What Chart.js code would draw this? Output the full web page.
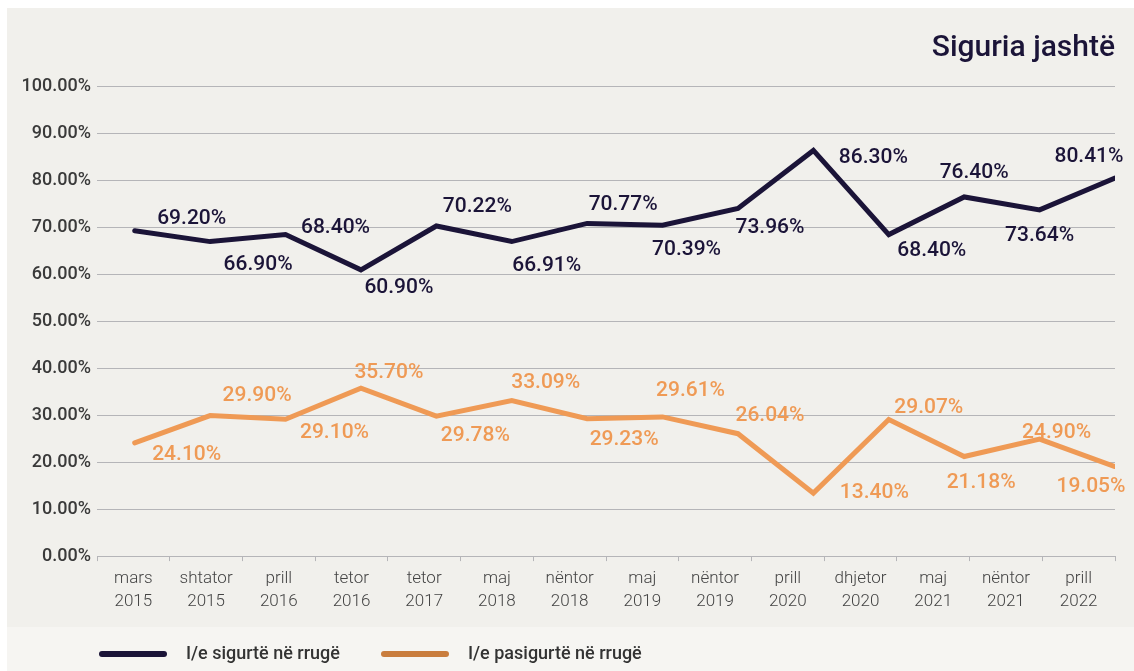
<!DOCTYPE html>
<html>
<head>
<meta charset="utf-8">
<script src="https://cdn.jsdelivr.net/npm/chart.js@4"></script>
<style>
  body { margin: 0; background: #ffffff; }
  #wrap { position: absolute; left: 7px; top: 8px; width: 1127px; height: 663px; background: #f1f0ec; }
</style>
</head>
<body>
<div id="wrap"><canvas id="myChart"></canvas></div>
<script>
// chart data
const categories = [
  ['mars', '2015'], ['shtator', '2015'], ['prill', '2016'], ['tetor', '2016'],
  ['tetor', '2017'], ['maj', '2018'], ['nëntor', '2018'], ['maj', '2019'],
  ['nëntor', '2019'], ['prill', '2020'], ['dhjetor', '2020'], ['maj', '2021'],
  ['nëntor', '2021'], ['prill', '2022']
];
const safeValues = [69.20, 66.90, 68.40, 60.90, 70.22, 66.91, 70.77, 70.39, 73.96, 86.30, 68.40, 76.40, 73.64, 80.41];
const unsafeValues = [24.10, 29.90, 29.10, 35.70, 29.78, 33.09, 29.23, 29.61, 26.04, 13.40, 29.07, 21.18, 24.90, 19.05];
const seriesNames = ['I/e sigurtë në rrugë', 'I/e pasigurtë në rrugë'];
const chartTitle = 'Siguria jashtë';
const yTicks = [0, 10, 20, 30, 40, 50, 60, 70, 80, 90, 100];

// label placement (offset from the point, px)
const safeLabelOffset = [[57,-12],[48,23],[50,-7],[38,18],[41,-19],[35,24],[36,-19],[24,25],[32,19],[60,7],[43,16],[10,-24],[0,26],[-26,-21]];
const unsafeLabelOffset = [[52,12],[47,-20],[49,13],[28,-16],[39,20],[34,-18],[37,21],[28,-26],[32,-18],[61,0],[40,-12],[17,26],[17,-6],[-24,20]];

const navy = '#1b1438';
const orange = '#ef9a55';
const legendOrange = '#c97d3e';

function toPoints(vals) {
  return vals.map((v, i) => ({ x: i, y: v }));
}

const bgPlugin = {
  id: 'bgBand',
  beforeDraw(chart) {
    const ctx = chart.ctx;
    ctx.save();
    ctx.fillStyle = '#f6f5f2';
    ctx.fillRect(0, 619, chart.width, chart.height - 619);
    ctx.restore();
  }
};

const labelPlugin = {
  id: 'valueLabels',
  afterDatasetsDraw(chart) {
    const ctx = chart.ctx;
    const offs = [safeLabelOffset, unsafeLabelOffset];
    ctx.save();
    ctx.font = '500 21px Roboto';
    ctx.textAlign = 'center';
    ctx.textBaseline = 'middle';
    chart.data.datasets.forEach((ds, di) => {
      const meta = chart.getDatasetMeta(di);
      ctx.fillStyle = ds.borderColor;
      meta.data.forEach((pt, i) => {
        const o = offs[di][i];
        ctx.fillText(ds.data[i].y.toFixed(2) + '%', pt.x + o[0], pt.y + o[1]);
      });
    });
    ctx.restore();
  }
};

const legendPlugin = {
  id: 'bottomLegend',
  afterDraw(chart) {
    const ctx = chart.ctx;
    const y = 646;
    const items = [
      { x: 92, color: navy, text: seriesNames[0] },
      { x: 374, color: legendOrange, text: seriesNames[1] }
    ];
    ctx.save();
    ctx.lineWidth = 6;
    ctx.lineCap = 'round';
    ctx.font = '500 18px Roboto';
    ctx.textBaseline = 'middle';
    ctx.fillStyle = '#333333';
    items.forEach(it => {
      ctx.strokeStyle = it.color;
      ctx.beginPath();
      ctx.moveTo(it.x + 3, y);
      ctx.lineTo(it.x + 65, y);
      ctx.stroke();
      ctx.fillText(it.text, it.x + 87, y);
    });
    ctx.restore();
  }
};

var ctx = document.getElementById('myChart').getContext('2d');
var myChart = new Chart(ctx, {
  type: 'line',
  data: {
    labels: categories,
    datasets: [{
      label: seriesNames[0],
      data: toPoints(safeValues),
      xAxisID: 'xl',
      borderColor: navy,
      borderWidth: 5,
      borderJoinStyle: 'miter',
      borderCapStyle: 'round',
      pointRadius: 0,
      tension: 0
    }, {
      label: seriesNames[1],
      data: toPoints(unsafeValues),
      xAxisID: 'xl',
      borderColor: orange,
      borderWidth: 5,
      borderJoinStyle: 'miter',
      borderCapStyle: 'round',
      pointRadius: 0,
      tension: 0
    }]
  },
  options: {
    responsive: true,
    maintainAspectRatio: false,
    animation: false,
    layout: { padding: { left: 0, right: 19, top: 0, bottom: 52 } },
    plugins: {
      legend: { display: false },
      tooltip: { enabled: false },
      title: {
        display: true,
        text: chartTitle,
        align: 'end',
        color: navy,
        font: { family: 'Roboto', size: 30, weight: '500' },
        padding: { top: 22, bottom: 20 }
      }
    },
    scales: {
      x: {
        type: 'category',
        offset: true,
        grid: { offset: true, drawOnChartArea: false, color: '#b5b5b8', tickLength: 5 },
        border: { display: true, color: '#b5b5b8' },
        ticks: {
          color: '#444444',
          padding: 6,
          maxRotation: 0,
          autoSkip: false,
          font: { family: 'Roboto', size: 17, weight: '300', lineHeight: 1.35 }
        }
      },
      xl: {
        type: 'linear',
        display: false,
        min: -0.5,
        max: 13
      },
      y: {
        min: 0,
        max: 100,
        afterFit(scale) { scale.width = 90; },
        afterBuildTicks(scale) { scale.ticks = yTicks.map(v => ({ value: v })); },
        grid: { color: '#b5b5b8', tickLength: 0 },
        border: { display: false },
        ticks: {
          color: '#3a3a3a',
          padding: 6,
          font: { family: 'Roboto', size: 18, weight: '500' },
          callback: v => v.toFixed(2) + '%'
        }
      }
    }
  },
  plugins: [bgPlugin, labelPlugin, legendPlugin]
});
</script>
</body>
</html>
